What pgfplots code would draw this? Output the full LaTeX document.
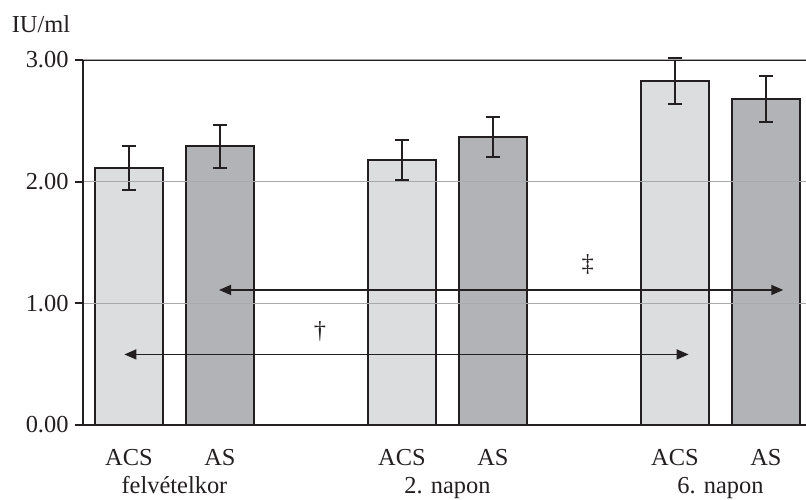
\documentclass[border=0pt]{standalone}
\usepackage{fontspec}
\setmainfont{Liberation Serif}
\usepackage{pgfplots}
\pgfplotsset{compat=1.18}
\usetikzlibrary{arrows.meta}
\definecolor{acs}{HTML}{DCDDDF}
\definecolor{as}{HTML}{B2B3B6}
\definecolor{ink}{HTML}{231F20}
\definecolor{gridc}{HTML}{A7A9AC}
\begin{document}
\begin{tikzpicture}[font=\fontsize{24.5}{29}\selectfont]
\begin{axis}[
  name=ax,
  scale only axis,
  width=723bp, height=365bp,
  xmin=-0.505, xmax=7.44,
  ymin=0, ymax=3,
  axis lines=left,
  axis line style={-, line width=2bp, ink},
  axis on top,
  clip=false,
  xtick=\empty,
  ytick={0,1,2,3},
  yticklabel style={xshift=-3bp, ink, /pgf/number format/.cd, fixed, fixed zerofill, precision=2, assume math mode=true},
  tick align=outside,
  major tick length=8bp,
  tick style={line width=2bp, ink},
  ymajorgrids,
  major grid style={line width=1bp, gridc},
  every axis plot/.append style={line width=2bp},
]
% ACS bars
\addplot[ybar, bar width=0.753, bar shift=0pt, fill=acs, draw=ink,
  error bars/.cd, y dir=both, y explicit,
  error bar style={line width=2bp, ink},
  error mark options={rotate=90, mark size=7bp, line width=2bp, ink}]
  coordinates {(0,2.11) +- (0,0.18) (3,2.18) +- (0,0.165) (6,2.83) +- (0,0.19)};
% AS bars
\addplot[ybar, bar width=0.753, bar shift=0pt, fill=as, draw=ink,
  error bars/.cd, y dir=both, y explicit,
  error bar style={line width=2bp, ink},
  error mark options={rotate=90, mark size=7bp, line width=2bp, ink}]
  coordinates {(1,2.29) +- (0,0.175) (4,2.37) +- (0,0.165) (7,2.68) +- (0,0.19)};
% significance arrows
\addplot[line width=1.6bp, ink, {Triangle[length=12bp,width=10bp]}-{Triangle[length=12bp,width=10bp]}]
  coordinates {(-0.05,0.58) (6.15,0.58)};
\addplot[line width=1.6bp, ink, {Triangle[length=12bp,width=10bp]}-{Triangle[length=12bp,width=10bp]}]
  coordinates {(0.99,1.11) (7.19,1.11)};
\node[ink] at (axis cs:2.10,0.77) {†};
\node[ink] at (axis cs:5.04,1.32) {‡};
% top frame line
\draw[line width=2.5bp, ink] (rel axis cs:0,1) -- (rel axis cs:1,1);
% x labels
\node[anchor=base, ink] at (axis cs:0,0) [yshift=-40bp] {ACS};
\node[anchor=base, ink] at (axis cs:1,0) [yshift=-40bp] {AS};
\node[anchor=base, ink] at (axis cs:3,0) [yshift=-40bp] {ACS};
\node[anchor=base, ink] at (axis cs:4,0) [yshift=-40bp] {AS};
\node[anchor=base, ink] at (axis cs:6,0) [yshift=-40bp] {ACS};
\node[anchor=base, ink] at (axis cs:7,0) [yshift=-40bp] {AS};
\node[anchor=base, ink] at (axis cs:0.5,0) [yshift=-68bp] {felvételkor};
\node[anchor=base, ink] at (axis cs:3.5,0) [yshift=-68bp] {2. napon};
\node[anchor=base, ink] at (axis cs:6.5,0) [yshift=-68bp] {6. napon};
\node[anchor=base, ink] at (rel axis cs:0,1) [xshift=-42bp, yshift=27bp] {IU/ml};
\end{axis}
\pgfresetboundingbox
\path[use as bounding box] ([shift={(-83bp,-75bp)}]ax.south west) rectangle ([shift={(0bp,60bp)}]ax.north east);
\end{tikzpicture}
\end{document}
